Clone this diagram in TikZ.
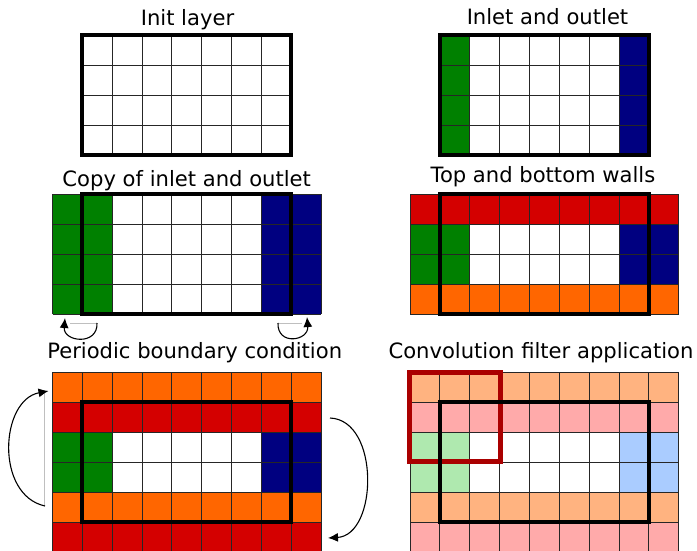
\documentclass[tikz,border=0pt]{standalone}
\usepackage{fontspec}
\setmainfont{DejaVu Sans}
\usetikzlibrary{arrows.meta}
\definecolor{cG}{HTML}{008000}
\definecolor{cB}{HTML}{000080}
\definecolor{cR}{HTML}{D40000}
\definecolor{cO}{HTML}{FF6600}
\definecolor{cW}{HTML}{FFFFFF}
\definecolor{lO}{HTML}{FFB380}
\definecolor{lR}{HTML}{FFAAAA}
\definecolor{lG}{HTML}{AFE9AF}
\definecolor{lB}{HTML}{AACCFF}
\definecolor{filt}{HTML}{AA0000}
\newcommand{\cellrow}[3]{%
  \foreach \c [count=\i from 0] in {#3} {\fill[\c] ({#1+29.85*\i},#2) rectangle ++(29.85,30);}}
\newcommand{\gridlines}[4]{%
  \foreach \i in {0,...,#3} {\draw[gridline] ({#1+29.85*\i},#2) -- ++(0,{30*#4});}
  \foreach \j in {0,...,#4} {\draw[gridline] (#1,{#2+30*\j}) -- ++({29.85*#3},0);}}
\begin{document}
\begin{tikzpicture}[x=1pt,y=-1pt,
  gridline/.style={line width=0.9pt,black!85},
  frame/.style={line width=4pt,black},
  title/.style={anchor=base,inner sep=0pt,font=\fontsize{21.1}{25}\selectfont},
  curvearrow/.style={line width=1.1pt,-{Latex[length=10pt,width=9pt]}},
  faint/.style={line width=0.6pt,black!25}]
\useasboundingbox (0,0) rectangle (697,550);
\fill[white] (0,0) rectangle (697,550);
\clip (0,0) rectangle (697,550);

% Titles
\node[title] (t1) at (187.5,25) {Init layer};
\node[title] (t2) at (547.5,24) {Inlet and outlet};
\node[title] (t3) at (186.7,186) {Copy of inlet and outlet};
\node[title] (t4) at (543,182.7) {Top and bottom walls};
\node[title] (t5) at (194.7,358.3) {Periodic boundary condition};
\node[title] (t6) at (541,358.3) {Convolution filter application};

% Panel 1
\foreach \r in {0,...,3} {\cellrow{82.35}{35+30*\r}{cW,cW,cW,cW,cW,cW,cW}}
\gridlines{82.35}{35}{7}{4}
\draw[frame] (82.35,35) rectangle (291.3,155);

% Panel 2
\foreach \r in {0,...,3} {\cellrow{439.85}{35+30*\r}{cG,cW,cW,cW,cW,cW,cB}}
\gridlines{439.85}{35}{7}{4}
\draw[frame] (439.85,35) rectangle (648.8,155);

% Panel 3
\foreach \r in {0,...,3} {\cellrow{52.5}{194+30*\r}{cG,cG,cW,cW,cW,cW,cW,cB,cB}}
\gridlines{52.5}{194}{9}{4}
\draw[frame] (82.35,194) rectangle (291.3,314);

% Panel 4
\cellrow{410}{194}{cR,cR,cR,cR,cR,cR,cR,cR,cR}
\cellrow{410}{224}{cG,cG,cW,cW,cW,cW,cW,cB,cB}
\cellrow{410}{254}{cG,cG,cW,cW,cW,cW,cW,cB,cB}
\cellrow{410}{284}{cO,cO,cO,cO,cO,cO,cO,cO,cO}
\gridlines{410}{194}{9}{4}
\draw[frame] (439.85,194) rectangle (648.8,314);

% Panel 5
\cellrow{52.5}{372.3}{cO,cO,cO,cO,cO,cO,cO,cO,cO}
\cellrow{52.5}{402.3}{cR,cR,cR,cR,cR,cR,cR,cR,cR}
\cellrow{52.5}{432.3}{cG,cG,cW,cW,cW,cW,cW,cB,cB}
\cellrow{52.5}{462.3}{cG,cG,cW,cW,cW,cW,cW,cB,cB}
\cellrow{52.5}{492.3}{cO,cO,cO,cO,cO,cO,cO,cO,cO}
\cellrow{52.5}{522.3}{cR,cR,cR,cR,cR,cR,cR,cR,cR}
\gridlines{52.5}{372.3}{9}{6}
\draw[frame] (82.35,402.3) rectangle (291.3,522.3);

% Panel 6
\cellrow{410}{372.3}{lO,lO,lO,lO,lO,lO,lO,lO,lO}
\cellrow{410}{402.3}{lR,lR,lR,lR,lR,lR,lR,lR,lR}
\cellrow{410}{432.3}{lG,lG,cW,cW,cW,cW,cW,lB,lB}
\cellrow{410}{462.3}{lG,lG,cW,cW,cW,cW,cW,lB,lB}
\cellrow{410}{492.3}{lO,lO,lO,lO,lO,lO,lO,lO,lO}
\cellrow{410}{522.3}{lR,lR,lR,lR,lR,lR,lR,lR,lR}
\gridlines{410}{372.3}{9}{6}
\draw[line width=5pt,filt] (409.6,372.6) rectangle (500,461.6);
\draw[frame] (439.85,402.3) rectangle (648.8,521.5);

% Arrows panel 3
\coordinate (a1s) at (97,323);
\coordinate (a1e) at (65,318);
\coordinate (a2s) at (278,323);
\coordinate (a2e) at (307,317);
\draw[faint] (70,323) -- (a1s);
\draw[faint] (a2s) -- (302,323);
\draw[curvearrow] (a1s) .. controls (98,346) and (63,342) .. (a1e);
\draw[curvearrow] (a2s) .. controls (277,346) and (309,341) .. (a2e);

% Arrows panel 5
\coordinate (a3s) at (45,506);
\coordinate (a3e) at (48.5,391);
\coordinate (a4s) at (330,418);
\coordinate (a4e) at (328,538);
\draw[faint] (44,393) -- (44,506);
\draw[curvearrow] (a3s) .. controls (-5,495) and (0,400) .. (a3e);
\draw[curvearrow] (a4s) .. controls (380,420) and (378,535) .. (a4e);
\end{tikzpicture}
\end{document}
